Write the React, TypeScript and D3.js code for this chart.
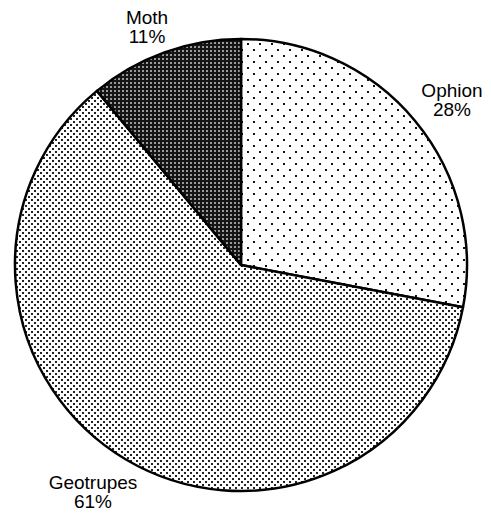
import React from "react";
import * as d3 from "d3";

const categories = ["Ophion", "Geotrupes", "Moth"];
const values = [28, 61, 11];
const labels = ["28%", "61%", "11%"];

const W = 491;
const H = 513;
const cx = 241;
const cy = 265;
const R = 226;

const patternIds = ["pOphion", "pGeo", "pMoth"];
const labelPos: [number, number][] = [
  [452, 97],
  [93, 489],
  [147, 24],
];

export default function App() {
  const pie = d3.pie<number>().sort(null).value((d) => d)(values);
  const arc = d3.arc<d3.PieArcDatum<number>>().innerRadius(0).outerRadius(R);
  return (
    <svg
      width={W}
      height={H}
      style={{ position: "absolute", left: 0, top: 0, background: "#fff" }}
    >
      <defs>
        <pattern id="pOphion" width={12} height={12} patternUnits="userSpaceOnUse">
          <rect width={12} height={12} fill="#fff" />
          <rect x={0} y={0} width={2} height={2} fill="#111" />
          <rect x={6} y={6} width={2} height={2} fill="#111" />
        </pattern>
        <pattern id="pGeo" width={6} height={6} patternUnits="userSpaceOnUse">
          <rect width={6} height={6} fill="#fff" />
          <rect x={0} y={0} width={2} height={2} fill="#222" />
          <rect x={3} y={3} width={2} height={2} fill="#222" />
        </pattern>
        <pattern id="pMoth" width={4} height={4} patternUnits="userSpaceOnUse">
          <rect width={4} height={4} fill="#151515" />
          <rect x={1} y={1} width={2} height={2} fill="#999" />
        </pattern>
      </defs>
      <g transform={`translate(${cx},${cy})`}>
        {pie.map((d, i) => (
          <path
            key={categories[i]}
            d={arc(d) || ""}
            fill={`url(#${patternIds[i]})`}
            stroke="#000"
            strokeWidth={2.5}
            strokeLinejoin="round"
          />
        ))}
      </g>
      {categories.map((c, i) => (
        <text
          key={c}
          x={labelPos[i][0]}
          y={labelPos[i][1]}
          textAnchor="middle"
          fontFamily="Liberation Sans, Arial, sans-serif"
          fontSize={19}
          fill="#000"
        >
          <tspan x={labelPos[i][0]}>{c}</tspan>
          <tspan x={labelPos[i][0]} dy={19}>
            {labels[i]}
          </tspan>
        </text>
      ))}
    </svg>
  );
}
